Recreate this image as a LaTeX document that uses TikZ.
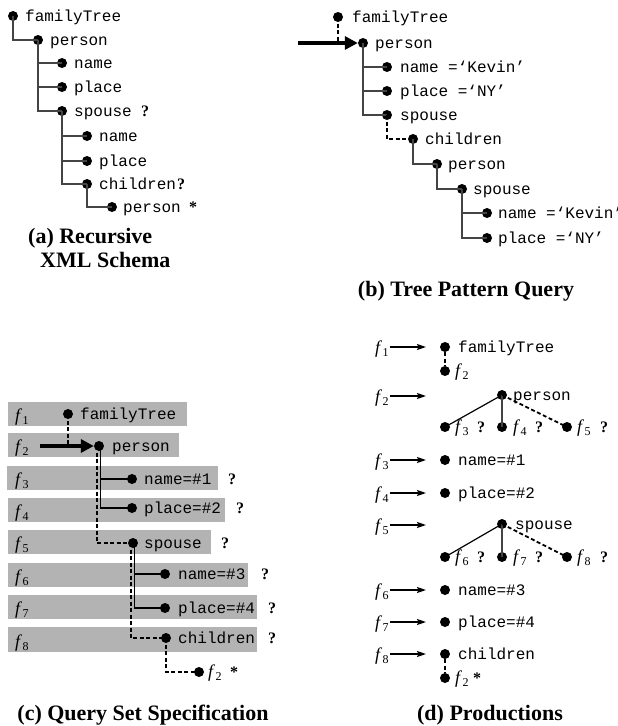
\documentclass[tikz,border=0pt]{standalone}
\usepackage{fontspec}
\setmainfont{Liberation Serif}
\setmonofont{Liberation Mono}
\usetikzlibrary{arrows.meta}
\newcommand{\fsub}[1]{\textit{f}\kern0.3pt\raisebox{-0.4ex}{\fontsize{12}{13}\selectfont #1}}
\definecolor{bargray}{HTML}{B3B3B3}
\definecolor{lngray}{HTML}{444444}
\tikzset{
  dot/.style={circle,fill=black,inner sep=0pt,minimum size=10pt},
  tt/.style={anchor=base west,inner sep=0pt,font=\ttfamily\fontsize{16}{18}\selectfont},
  qm/.style={anchor=base west,inner sep=0pt,font=\bfseries\fontsize{16}{18}\selectfont},
  fl/.style={anchor=base west,inner sep=0pt,font=\fontsize{18}{20}\selectfont},
  capt/.style={anchor=base,inner sep=0pt,font=\bfseries\fontsize{22}{25}\selectfont},
  capw/.style={anchor=base west,inner sep=0pt,font=\bfseries\fontsize{22}{25}\selectfont},
  ln/.style={line width=1.2pt,draw=lngray},
  dl/.style={line width=1.8pt,dash pattern=on 4pt off 2.5pt},
  bigarrow/.style={line width=3.5pt,-{Triangle[length=13pt,width=13pt]}},
  smallarrow/.style={line width=1.6pt,-{Stealth[length=9pt,width=6pt,inset=1.5pt]}},
  bar/.style={fill=bargray,draw=none}
}
\begin{document}
\begin{tikzpicture}[x=1pt,y=-1pt]
\useasboundingbox (0,0) rectangle (618,726);
% ---------------- (a)
\node[dot] (a1) at (13,16) {};  \node[tt] (ta1) at (25,21) {familyTree};
\node[dot] (a2) at (38,40) {};  \node[tt] (ta2) at (50,45) {person};
\node[dot] (a3) at (62,63) {};  \node[tt] (ta3) at (74,68) {name};
\node[dot] (a4) at (62,87) {};  \node[tt] (ta4) at (74,92) {place};
\node[dot] (a5) at (62,111) {}; \node[tt] (ta5) at (74,116) {spouse};
\node[qm] (qa5) at (141,116) {?};
\node[dot] (a6) at (87,136) {}; \node[tt] (ta6) at (99,141) {name};
\node[dot] (a7) at (87,161) {}; \node[tt] (ta7) at (99,166) {place};
\node[dot] (a8) at (87,184) {}; \node[tt] (ta8) at (99,189) {children};
\node[qm] (qa8) at (177,189) {?};
\node[dot] (a9) at (112,207) {};\node[tt] (ta9) at (123,212) {person};
\node[qm] (qa9) at (189,212) {*};
\draw[ln] (a1.center) |- (a2.center);
\draw[ln] (a2.center) |- (a3.center);
\draw[ln] (a2.center) |- (a4.center);
\draw[ln] (a2.center) |- (a5.center);
\draw[ln] (a5.center) |- (a6.center);
\draw[ln] (a5.center) |- (a7.center);
\draw[ln] (a5.center) |- (a8.center);
\draw[ln] (a8.center) |- (a9.center);
\node[capw] (capa1) at (28,243) {(a) Recursive};
\node[capw] (capa2) at (40,267) {XML Schema};
% ---------------- (b)
\node[dot] (b1) at (338,17) {};  \node[tt] (tb1) at (352,22) {familyTree};
\node[dot] (b2) at (363,43) {};  \node[tt] (tb2) at (375,48) {person};
\node[dot] (b3) at (387,67) {};  \node[tt] (tb3) at (400,72) {name =‘Kevin’};
\node[dot] (b4) at (387,91) {};  \node[tt] (tb4) at (400,96) {place =‘NY’};
\node[dot] (b5) at (387,115) {}; \node[tt] (tb5) at (400,120) {spouse};
\node[dot] (b6) at (413,139) {}; \node[tt] (tb6) at (425,144) {children};
\node[dot] (b7) at (437,164) {}; \node[tt] (tb7) at (448,169) {person};
\node[dot] (b8) at (462,189) {}; \node[tt] (tb8) at (473,194) {spouse};
\node[dot] (b9) at (487,213) {}; \node[tt] (tb9) at (498,218) {name =‘Kevin’};
\node[dot] (b10) at (487,238) {};\node[tt] (tb10) at (498,243) {place =‘NY’};
\coordinate (barr) at (298,43);
\draw[dl] (b1.center) -- (b1.center |- b2.center);
\draw[bigarrow] (barr) -- (b2.west);
\draw[ln] (b2.center) |- (b3.center);
\draw[ln] (b2.center) |- (b4.center);
\draw[ln] (b2.center) |- (b5.center);
\draw[dl] (b5.center) |- (b6.center);
\draw[ln] (b6.center) |- (b7.center);
\draw[ln] (b7.center) |- (b8.center);
\draw[ln] (b8.center) |- (b9.center);
\draw[ln] (b8.center) |- (b10.center);
\node[capt] (capb) at (466,296) {(b) Tree Pattern Query};
% ---------------- (c)
\path[bar] (8,402) rectangle (187,426);
\path[bar] (8,433) rectangle (179,457);
\path[bar] (7,466) rectangle (218,490);
\path[bar] (8,498) rectangle (225,522);
\path[bar] (8,530) rectangle (211,554);
\path[bar] (8,563) rectangle (248,587);
\path[bar] (8,595) rectangle (257,619);
\path[bar] (8,627) rectangle (257,652);
\node[fl] (fc1) at (15,421) {\fsub{1}};
\node[fl] (fc2) at (15,452) {\fsub{2}};
\node[fl] (fc3) at (15,485) {\fsub{3}};
\node[fl] (fc4) at (15,517) {\fsub{4}};
\node[fl] (fc5) at (15,549) {\fsub{5}};
\node[fl] (fc6) at (15,582) {\fsub{6}};
\node[fl] (fc7) at (15,614) {\fsub{7}};
\node[fl] (fc8) at (15,647) {\fsub{8}};
\node[dot] (c1) at (68,414) {};  \node[tt] (tc1) at (80,419) {familyTree};
\node[dot] (c2) at (99,446) {};  \node[tt] (tc2) at (112,451) {person};
\node[dot] (c3) at (132,479) {}; \node[tt] (tc3) at (144,484) {name=\#1};
\node[qm] (qc3) at (228,484) {?};
\node[dot] (c4) at (132,508) {}; \node[tt] (tc4) at (144,513) {place=\#2};
\node[qm] (qc4) at (236,513) {?};
\node[dot] (c5) at (133,543) {}; \node[tt] (tc5) at (144,548) {spouse};
\node[qm] (qc5) at (221,548) {?};
\node[dot] (c6) at (165,574) {}; \node[tt] (tc6) at (178,579) {name=\#3};
\node[qm] (qc6) at (261,579) {?};
\node[dot] (c7) at (165,608) {}; \node[tt] (tc7) at (178,613) {place=\#4};
\node[qm] (qc7) at (268,613) {?};
\node[dot] (c8) at (166,638) {}; \node[tt] (tc8) at (178,643) {children};
\node[qm] (qc8) at (268,643) {?};
\node[dot] (c9) at (199,672) {}; \node[fl] (tc9) at (208,677) {\fsub{2}};
\node[qm] (qc9) at (230,677) {*};
\coordinate (carr) at (40,446);
\draw[dl] (c1.center) -- (c1.center |- c2.center);
\draw[bigarrow] (carr) -- (c2.west);
\draw[ln,draw=black] ([xshift=1.3pt]c2.center) |- (c3.center);
\draw[ln,draw=black] ([xshift=1.3pt]c2.center) |- (c4.center);
\draw[dl] ([xshift=-2.2pt]c2.center) |- (c5.center);
\draw[ln,draw=black] ([xshift=1.3pt]c5.center) |- (c6.center);
\draw[ln,draw=black] ([xshift=1.3pt]c5.center) |- (c7.center);
\draw[dl] ([xshift=-2.2pt]c5.center) |- (c8.center);
\draw[dl] (c8.center) |- (c9.center);
\node[capt] (capc) at (143,720) {(c) Query Set Specification};
% ---------------- (d)
\foreach \i/\y in {1/347,2/396,3/460,4/493,5/525,6/590,7/622,8/654}{
  \node[fl] (fd\i) at (375,\y+6) {\fsub{\i}};
  \coordinate (ad\i) at (426,\y);
  \draw[smallarrow] (fd\i.east |- ad\i) ++(1,0) -- (ad\i);
}
\node[dot] (d1) at (445,347) {}; \node[tt] (td1) at (458,352) {familyTree};
\node[dot] (d1b) at (445,371) {}; \node[fl] (td1b) at (455,376) {\fsub{2}};
\draw[dl] (d1) -- (d1b);
\node[dot] (d2) at (502,395) {}; \node[tt] (td2) at (513,400) {person};
\node[dot] (d2a) at (445,427) {}; \node[fl] (td2a) at (455,432) {\fsub{3}};
\node[qm] (qd2a) at (477,432) {?};
\node[dot] (d2b) at (502,427) {}; \node[fl] (td2b) at (513,432) {\fsub{4}};
\node[qm] (qd2b) at (535,432) {?};
\node[dot] (d2c) at (567,427) {}; \node[fl] (td2c) at (577,432) {\fsub{5}};
\node[qm] (qd2c) at (600,432) {?};
\draw[ln,draw=black] (d2.center) -- (d2a.center);
\draw[ln] (d2.center) -- (d2b.center);
\draw[dl] (d2.center) -- (d2c.center);
\node[dot] (d3) at (445,460) {}; \node[tt] (td3) at (458,465) {name=\#1};
\node[dot] (d4) at (445,493) {}; \node[tt] (td4) at (458,498) {place=\#2};
\node[dot] (d5) at (502,524) {}; \node[tt] (td5) at (515,529) {spouse};
\node[dot] (d5a) at (445,557) {}; \node[fl] (td5a) at (455,562) {\fsub{6}};
\node[qm] (qd5a) at (477,562) {?};
\node[dot] (d5b) at (502,557) {}; \node[fl] (td5b) at (513,562) {\fsub{7}};
\node[qm] (qd5b) at (535,562) {?};
\node[dot] (d5c) at (567,557) {}; \node[fl] (td5c) at (577,562) {\fsub{8}};
\node[qm] (qd5c) at (600,562) {?};
\draw[ln,draw=black] (d5.center) -- (d5a.center);
\draw[ln] (d5.center) -- (d5b.center);
\draw[dl] (d5.center) -- (d5c.center);
\node[dot] (d6) at (445,590) {}; \node[tt] (td6) at (458,595) {name=\#3};
\node[dot] (d7) at (445,622) {}; \node[tt] (td7) at (458,627) {place=\#4};
\node[dot] (d8) at (445,654) {}; \node[tt] (td8) at (458,659) {children};
\node[dot] (d8b) at (445,678) {}; \node[fl] (td8b) at (455,683) {\fsub{2}};
\node[qm] (qd8b) at (473,683) {*};
\draw[dl] (d8) -- (d8b);
\node[capt] (capd) at (490,720) {(d) Productions};
\end{tikzpicture}
\end{document}
